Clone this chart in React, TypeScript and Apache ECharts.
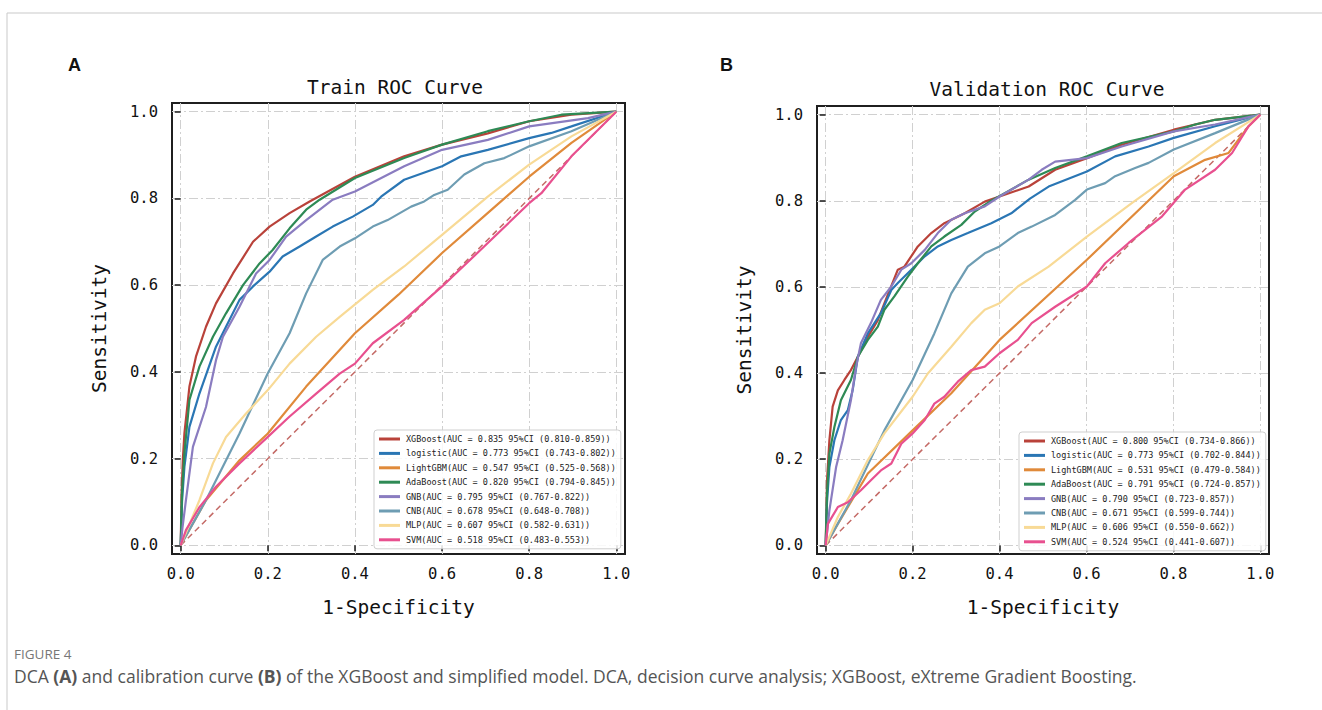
import React, { useEffect, useRef } from "react";
import * as echarts from "echarts";

const MODELS = ["XGBoost", "logistic", "LightGBM", "AdaBoost", "GNB", "CNB", "MLP", "SVM"];
const COLORS = ["#b9423a", "#2a76b4", "#e08a3a", "#2e8a55", "#8a7cc0", "#6e9db3", "#f8da96", "#e8508f"];

const TRAIN_AUC = [
  "0.835 95%CI (0.810-0.859)",
  "0.773 95%CI (0.743-0.802)",
  "0.547 95%CI (0.525-0.568)",
  "0.820 95%CI (0.794-0.845)",
  "0.795 95%CI (0.767-0.822)",
  "0.678 95%CI (0.648-0.708)",
  "0.607 95%CI (0.582-0.631)",
  "0.518 95%CI (0.483-0.553)",
];
const VALID_AUC = [
  "0.800 95%CI (0.734-0.866)",
  "0.773 95%CI (0.702-0.844)",
  "0.531 95%CI (0.479-0.584)",
  "0.791 95%CI (0.724-0.857)",
  "0.790 95%CI (0.723-0.857)",
  "0.671 95%CI (0.599-0.744)",
  "0.606 95%CI (0.550-0.662)",
  "0.524 95%CI (0.441-0.607)",
];

const TICKS = [0, 0.2, 0.4, 0.6, 0.8, 1.0];

// ---- Train curves [FPR, TPR]
const trainXGBoost = [[0,0],[0.002,0.12],[0.005,0.2],[0.0085,0.258],[0.02,0.366],[0.035,0.435],[0.058,0.504],[0.081,0.558],[0.12,0.627],[0.166,0.7],[0.204,0.735],[0.25,0.766],[0.296,0.793],[0.4,0.85],[0.513,0.897],[0.6,0.924],[0.705,0.95],[0.8,0.978],[0.897,0.993],[1,1]];
const trainLogistic = [[0,0],[0.003,0.1],[0.0085,0.181],[0.02,0.273],[0.043,0.35],[0.081,0.458],[0.104,0.504],[0.135,0.566],[0.166,0.597],[0.204,0.631],[0.234,0.666],[0.273,0.689],[0.311,0.712],[0.349,0.735],[0.395,0.758],[0.441,0.785],[0.46,0.804],[0.513,0.843],[0.6,0.874],[0.644,0.897],[0.705,0.912],[0.8,0.939],[0.851,0.951],[0.897,0.966],[1,1]];
const trainLightGBM = [[0,0],[0.058,0.104],[0.135,0.196],[0.2,0.258],[0.288,0.366],[0.4,0.489],[0.5,0.578],[0.6,0.674],[0.7,0.762],[0.8,0.85],[0.897,0.928],[1,1]];
const trainAdaBoost = [[0,0],[0.003,0.12],[0.0085,0.212],[0.02,0.335],[0.043,0.412],[0.074,0.481],[0.104,0.535],[0.143,0.6],[0.181,0.65],[0.211,0.681],[0.25,0.731],[0.288,0.774],[0.319,0.797],[0.4,0.847],[0.513,0.893],[0.6,0.924],[0.705,0.955],[0.8,0.978],[0.874,0.993],[1,1]];
const trainGNB = [[0,0],[0.004,0.04],[0.012,0.104],[0.028,0.227],[0.058,0.319],[0.081,0.427],[0.097,0.481],[0.135,0.55],[0.173,0.627],[0.204,0.658],[0.242,0.712],[0.288,0.75],[0.349,0.797],[0.4,0.816],[0.513,0.874],[0.6,0.912],[0.705,0.935],[0.8,0.966],[0.935,0.985],[1,1]];
const trainCNB = [[0,0],[0.058,0.104],[0.135,0.258],[0.2,0.397],[0.25,0.489],[0.288,0.581],[0.326,0.658],[0.365,0.689],[0.4,0.708],[0.441,0.735],[0.475,0.75],[0.529,0.781],[0.559,0.793],[0.582,0.808],[0.613,0.82],[0.651,0.855],[0.697,0.881],[0.743,0.893],[0.8,0.92],[0.897,0.955],[1,1]];
const trainMLP = [[0,0],[0.043,0.104],[0.074,0.189],[0.104,0.25],[0.15,0.304],[0.2,0.358],[0.25,0.419],[0.311,0.481],[0.365,0.527],[0.441,0.589],[0.513,0.643],[0.6,0.716],[0.705,0.804],[0.8,0.878],[0.897,0.943],[1,1]];
const trainSVM = [[0,0],[0.012,0.035],[0.043,0.088],[0.081,0.135],[0.135,0.189],[0.2,0.25],[0.25,0.297],[0.311,0.35],[0.365,0.396],[0.4,0.419],[0.441,0.466],[0.513,0.52],[0.6,0.597],[0.705,0.697],[0.8,0.789],[0.828,0.812],[0.897,0.897],[1,1]];

// ---- Validation curves [FPR, TPR]
const validXGBoost = [[0,0],[0.003,0.15],[0.0085,0.244],[0.016,0.322],[0.028,0.36],[0.043,0.384],[0.058,0.407],[0.074,0.438],[0.097,0.484],[0.12,0.523],[0.135,0.562],[0.166,0.64],[0.181,0.647],[0.212,0.694],[0.243,0.725],[0.273,0.748],[0.32,0.771],[0.366,0.798],[0.4,0.81],[0.467,0.833],[0.528,0.872],[0.601,0.899],[0.681,0.93],[0.801,0.965],[0.896,0.988],[1,1]];
const validLogistic = [[0,0],[0.003,0.1],[0.0085,0.182],[0.02,0.244],[0.035,0.291],[0.051,0.314],[0.062,0.36],[0.074,0.438],[0.097,0.492],[0.127,0.539],[0.151,0.593],[0.166,0.609],[0.197,0.64],[0.228,0.671],[0.258,0.694],[0.289,0.709],[0.327,0.725],[0.381,0.748],[0.427,0.771],[0.47,0.805],[0.513,0.833],[0.601,0.868],[0.666,0.903],[0.743,0.926],[0.801,0.946],[0.896,0.973],[1,1]];
const validLightGBM = [[0,0],[0.028,0.05],[0.097,0.167],[0.2,0.267],[0.289,0.353],[0.4,0.477],[0.601,0.663],[0.801,0.857],[0.873,0.895],[0.927,0.911],[0.973,0.973],[1,1]];
const validAdaBoost = [[0,0],[0.003,0.12],[0.0085,0.213],[0.02,0.275],[0.035,0.337],[0.058,0.384],[0.074,0.438],[0.097,0.477],[0.12,0.508],[0.135,0.547],[0.158,0.578],[0.189,0.624],[0.212,0.655],[0.243,0.694],[0.273,0.717],[0.312,0.744],[0.343,0.775],[0.381,0.8],[0.467,0.849],[0.528,0.876],[0.601,0.903],[0.681,0.934],[0.801,0.961],[0.85,0.977],[0.896,0.988],[1,1]];
const validGNB = [[0,0],[0.0085,0.081],[0.024,0.182],[0.039,0.244],[0.058,0.337],[0.07,0.415],[0.081,0.469],[0.104,0.516],[0.127,0.57],[0.151,0.601],[0.174,0.64],[0.197,0.655],[0.228,0.686],[0.258,0.725],[0.289,0.756],[0.32,0.771],[0.366,0.787],[0.4,0.81],[0.467,0.849],[0.497,0.872],[0.528,0.891],[0.601,0.899],[0.681,0.926],[0.801,0.961],[0.896,0.977],[1,1]];
const validCNB = [[0,0],[0.058,0.105],[0.135,0.267],[0.2,0.384],[0.25,0.492],[0.289,0.585],[0.327,0.647],[0.366,0.678],[0.4,0.694],[0.442,0.725],[0.474,0.74],[0.528,0.767],[0.574,0.802],[0.601,0.826],[0.643,0.841],[0.666,0.857],[0.712,0.876],[0.743,0.888],[0.801,0.919],[0.896,0.957],[1,1]];
const validMLP = [[0,0],[0.028,0.066],[0.058,0.12],[0.097,0.198],[0.135,0.26],[0.2,0.345],[0.235,0.399],[0.289,0.461],[0.335,0.516],[0.366,0.547],[0.4,0.562],[0.442,0.601],[0.513,0.647],[0.601,0.717],[0.705,0.795],[0.801,0.864],[0.896,0.934],[1,1]];
const validSVM = [[0,0],[0.005,0.05],[0.028,0.089],[0.051,0.1],[0.081,0.128],[0.104,0.151],[0.127,0.174],[0.151,0.19],[0.174,0.236],[0.2,0.26],[0.228,0.291],[0.25,0.329],[0.273,0.345],[0.304,0.38],[0.335,0.407],[0.366,0.415],[0.4,0.446],[0.442,0.477],[0.474,0.516],[0.528,0.554],[0.601,0.601],[0.643,0.655],[0.697,0.702],[0.774,0.764],[0.827,0.826],[0.896,0.872],[0.935,0.911],[0.973,0.973],[1,1]];

const DIAGONAL = [[0, 0], [1, 1]];

const TRAIN_CURVES = [trainXGBoost, trainLogistic, trainLightGBM, trainAdaBoost, trainGNB, trainCNB, trainMLP, trainSVM];
const VALID_CURVES = [validXGBoost, validLogistic, validLightGBM, validAdaBoost, validGNB, validCNB, validMLP, validSVM];

const MONO = "DejaVu Sans Mono";

function axisPair(gridIndex: number) {
  const common = {
    type: "value",
    gridIndex,
    min: -0.02,
    max: 1.02,
    axisLine: { show: false },
    axisTick: {
      show: true,
      inside: false,
      length: 6,
      customValues: TICKS,
      lineStyle: { color: "#1a1a1a", width: 1.5 },
    },
    splitLine: {
      show: true,
      lineStyle: { color: "#d0d0d0", width: 1, type: [9, 3, 2, 3] },
    },
    axisLabel: {
      customValues: TICKS,
      formatter: (v: number) => v.toFixed(1),
      fontFamily: MONO,
      fontSize: 15.5,
      color: "#111",
    },
    nameLocation: "middle",
    nameTextStyle: { fontFamily: MONO, fontSize: 19.5, color: "#111" },
  };
  const x = {
    ...common,
    name: "1-Specificity",
    nameGap: 43,
    axisLabel: { ...common.axisLabel, margin: 12 },
  };
  const y = {
    ...common,
    name: "Sensitivity",
    nameGap: 63,
    axisLabel: { ...common.axisLabel, margin: 14 },
  };
  return { x, y };
}

export default function App() {
  const ref = useRef<HTMLDivElement>(null);
  useEffect(() => {
    if (!ref.current) return;
    const chart = echarts.init(ref.current, undefined, { renderer: "svg" });
    const a0 = axisPair(0);
    const a1 = axisPair(1);
    const trainNames = MODELS.map((m, i) => `${m}(AUC = ${TRAIN_AUC[i]})`);
    const validNames = MODELS.map((m, i) => `${m}(AUC = ${VALID_AUC[i]})`);
    const series: any[] = [];
    const panels = [
      { curves: TRAIN_CURVES, names: trainNames, idx: 0 },
      { curves: VALID_CURVES, names: validNames, idx: 1 },
    ];
    panels.forEach((p) => {
      series.push({
        type: "line",
        name: "chance" + p.idx,
        xAxisIndex: p.idx,
        yAxisIndex: p.idx,
        data: DIAGONAL,
        symbol: "none",
        silent: true,
        lineStyle: { color: "#c46a66", width: 1.5, type: [6, 4] },
        z: 1,
      });
      p.curves.forEach((c, i) => {
        series.push({
          type: "line",
          name: p.names[i],
          xAxisIndex: p.idx,
          yAxisIndex: p.idx,
          data: c,
          symbol: "none",
          color: COLORS[i],
          lineStyle: { color: COLORS[i], width: 2.2 },
          z: 3,
        });
      });
    });
    const legendBase = {
      orient: "vertical",
      icon: "rect",
      itemWidth: 21,
      itemHeight: 3,
      itemGap: 4.4,
      padding: [4, 5, 4, 5],
      backgroundColor: "rgba(255,255,255,0.85)",
      borderColor: "#cfcfcf",
      borderWidth: 1,
      borderRadius: 3,
      textStyle: { fontFamily: MONO, fontSize: 8.5, lineHeight: 10, color: "#222", padding: [0, 0, 0, 1] },
      selectedMode: false,
    };
    chart.setOption({
      animation: false,
      backgroundColor: "#ffffff",
      title: [
        { text: "Train ROC Curve", left: 390, top: 72, textAlign: "center", textStyle: { fontFamily: MONO, fontSize: 19.5, fontWeight: "normal", color: "#111" } },
        { text: "Validation ROC Curve", left: 1042, top: 74, textAlign: "center", textStyle: { fontFamily: MONO, fontSize: 19.5, fontWeight: "normal", color: "#111" } },
      ],
      grid: [
        { left: 172, top: 103, width: 453, height: 451, show: true, borderColor: "#1f1f1f", borderWidth: 2, backgroundColor: "transparent" },
        { left: 817, top: 106, width: 452, height: 448, show: true, borderColor: "#1f1f1f", borderWidth: 2, backgroundColor: "transparent" },
      ],
      xAxis: [a0.x, a1.x],
      yAxis: [a0.y, a1.y],
      legend: [
        { ...legendBase, data: trainNames, left: 374, top: 430 },
        { ...legendBase, data: validNames, left: 1019, top: 432 },
      ],
      series,
      graphic: [
        { type: "rect", shape: { x: 7, y: 13, width: 1330, height: 720 }, style: { fill: "none", stroke: "#c9c9c9", lineWidth: 1 }, silent: true },
        { type: "text", left: 68, top: 56, style: { text: "A", font: "bold 18px 'Liberation Sans', Arial, sans-serif", fill: "#111" } },
        { type: "text", left: 720, top: 56, style: { text: "B", font: "bold 18px 'Liberation Sans', Arial, sans-serif", fill: "#111" } },
        { type: "text", left: 14, top: 647, style: { text: "FIGURE 4", font: "13.5px 'Open Sans', sans-serif", fill: "#777777" } },
        {
          type: "text",
          left: 14,
          top: 667,
          style: {
            text: "{n|DCA }{b|(A)}{n| and calibration curve }{b|(B)}{n| of the XGBoost and simplified model. DCA, decision curve analysis; XGBoost, eXtreme Gradient Boosting.}",
            rich: {
              n: { fontFamily: "Open Sans", fontSize: 17.5, fill: "#555555", color: "#555555" },
              b: { fontFamily: "Open Sans", fontSize: 17.5, fontWeight: "bold", fill: "#555555", color: "#555555" },
            },
          },
        },
      ],
    });
    return () => chart.dispose();
  }, []);
  return (
    <div
      ref={ref}
      style={{ position: "fixed", left: 0, top: 0, width: 1322, height: 710, background: "#fff" }}
    />
  );
}
